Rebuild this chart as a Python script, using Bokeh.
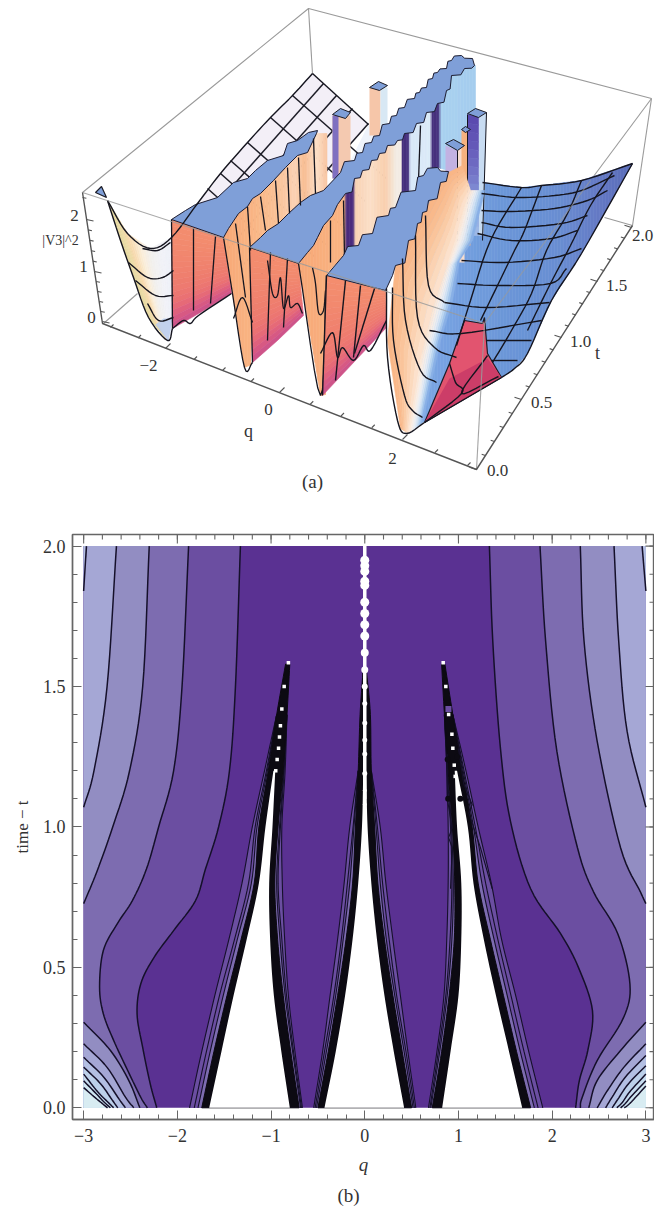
import numpy as np
from bokeh.plotting import figure
from bokeh.layouts import column
from bokeh.models import Range1d, FixedTicker
from bokeh.core.properties import value
from bokeh.embed import file_html
from bokeh.resources import INLINE

SERIF = "Liberation Serif"

# ---------------- panel (b): contour levels (q, t) ----------------
t_A = [2.0, 1.5, 1.2, 1.0, 0.85, 0.738, 0.631, 0.535, 0.442, 0.335, 0.215, 0.086, 0.0]
q_A_left = [-1.327, -1.38, -1.444, -1.56, -1.70, -1.806, -2.04, -2.25, -2.39, -2.43, -2.37, -2.29, -2.22]
t_A_r = [2.0, 1.662, 1.28, 1.02, 0.78, 0.62, 0.5, 0.346, 0.204, 0.097, 0.0]
q_A_right = [1.33, 1.366, 1.448, 1.555, 1.77, 2.09, 2.28, 2.43, 2.38, 2.29, 2.25]
t_C = [2.0, 1.5, 1.2, 1.0, 0.85, 0.738, 0.656, 0.56, 0.43, 0.335, 0.24, 0.133, 0.037, 0.0]
q_C_left = [-1.88, -1.95, -2.04, -2.2, -2.33, -2.48, -2.64, -2.79, -2.83, -2.79, -2.68, -2.53, -2.39, -2.32]
t_C_r = [2.0, 1.662, 1.27, 0.926, 0.77, 0.62, 0.44, 0.32, 0.168, 0.037, 0.0]
q_C_right = [1.87, 1.93, 2.05, 2.27, 2.44, 2.70, 2.83, 2.76, 2.48, 2.32, 2.30]
t_E = [2.0, 1.5, 1.2, 1.0, 0.84, 0.727]
q_E_left = [-2.30, -2.37, -2.51, -2.69, -2.86, -3.0]
t_E_r = [2.0, 1.662, 1.306, 0.926, 0.77, 0.727]
q_E_right = [2.30, 2.34, 2.48, 2.73, 2.94, 3.0]
t_G = [2.0, 1.5, 1.2, 1.07]
q_G_left = [-2.65, -2.75, -2.89, -3.0]
t_G_r = [2.0, 1.662, 1.34, 1.07]
q_G_right = [2.66, 2.71, 2.80, 3.0]
t_H = [2.0, 1.84]
q_H_left = [-2.97, -3.0]
q_H_right = [2.96, 3.0]

corner_left = [
    ([-3.0, -2.714, -2.518, -2.40], [0.305, 0.204, 0.097, 0.0]),
    ([-3.0, -2.75, -2.554, -2.465], [0.228, 0.144, 0.038, 0.0]),
    ([-3.0, -2.785, -2.62, -2.554], [0.18, 0.109, 0.03, 0.0]),
    ([-3.0, -2.82, -2.70, -2.636], [0.145, 0.086, 0.03, 0.0]),
    ([-3.0, -2.85, -2.74, -2.68], [0.12, 0.057, 0.02, 0.0]),
    ([-3.0, -2.865, -2.78, -2.714], [0.096, 0.05, 0.02, 0.0]),
    ([-3.0, -2.88, -2.80, -2.745], [0.072, 0.037, 0.015, 0.0]),
]
corner_right = [
    ([3.0, 2.73, 2.48, 2.39], [0.305, 0.204, 0.097, 0.0]),
    ([3.0, 2.764, 2.587, 2.48], [0.228, 0.144, 0.06, 0.0]),
    ([3.0, 2.78, 2.64, 2.57], [0.186, 0.109, 0.038, 0.0]),
    ([3.0, 2.815, 2.70, 2.64], [0.15, 0.086, 0.03, 0.0]),
    ([3.0, 2.835, 2.75, 2.69], [0.12, 0.06, 0.02, 0.0]),
    ([3.0, 2.85, 2.78, 2.73], [0.096, 0.043, 0.015, 0.0]),
    ([3.0, 2.87, 2.81, 2.77], [0.078, 0.03, 0.01, 0.0]),
]
level_colors = ["#5a3192", "#6b4ea1", "#7d6cb0", "#928dc2", "#a5a7d5", "#b3bfe3",
                "#bcd0ea", "#c6dcef", "#cfe6f2", "#d8ecf2"]

# wedge edges (q) over t
t_w = [0, .2, .4, .6, .8, 1.0, 1.2, 1.4, 1.58]
t_l = [0, .2, .4, .6, .8, 1.0, 1.2]
lo_white = [-1.66, -1.53, -1.40, -1.26, -1.13, -1.06, -.975]
lo_black = [-1.74, -1.61, -1.47, -1.32, -1.18, -1.13, -1.03, -.94, -.845]
lo_l3 = [-1.78, -1.65, -1.51, -1.36, -1.21, -1.15, -1.04]
lo_l2 = [-1.82, -1.69, -1.55, -1.39, -1.24, -1.17, -1.05]
lo_l1 = [-1.87, -1.74, -1.60, -1.45, -1.31, -1.20, -1.07]
li_white = [-.80, -.89, -.97, -1.01, -1.02, -.985, -.955]
li_black = [-.70, -.79, -.87, -.93, -.96, -.925, -.87, -.83, -.80]
li_l3 = [-.685, -.77, -.85, -.905, -.94, -.91, -.865]
li_l2 = [-.675, -.76, -.835, -.885, -.925, -.90, -.86]
li_l1 = [-.665, -.745, -.815, -.855, -.88, -.885, -.85]
ri_white = [.826, .915, 1.0, 1.03, 1.03, .985, .96]
ri_black = [.72, .82, .90, .955, .96, .935, .89, .85, .82]
ri_l3 = [.705, .80, .88, .93, .945, .925, .885]
ri_l2 = [.695, .785, .865, .91, .93, .915, .88]
ri_l1 = [.68, .77, .845, .875, .89, .89, .875]
ro_white = [1.68, 1.54, 1.40, 1.27, 1.16, 1.10, .985]
ro_black = [1.77, 1.62, 1.48, 1.34, 1.21, 1.146, 1.04, .94, .855]
ro_l3 = [1.81, 1.66, 1.52, 1.38, 1.25, 1.16, 1.05]
ro_l2 = [1.85, 1.70, 1.56, 1.42, 1.29, 1.18, 1.06]
ro_l1 = [1.90, 1.75, 1.61, 1.46, 1.35, 1.21, 1.08]
t_c = [0, .2, .4, .6, .8, 1.0, 1.2, 1.4, 1.55]
cl_white = [-.43, -.31, -.21, -.13, -.07, -.03, -.016]
cl_black = [-.50, -.39, -.29, -.20, -.13, -.10, -.07, -.05, -.02]
cl_l3 = [-.515, -.41, -.31, -.23, -.16, -.115]
cl_l2 = [-.53, -.43, -.33, -.25, -.185, -.125]
cl_l1 = [-.545, -.45, -.37, -.29, -.22, -.16]
cr_white = [.42, .31, .21, .13, .07, .03, .016]
cr_black = [.50, .40, .30, .21, .14, .105, .07, .06, .02]
cr_l3 = [.515, .42, .32, .23, .165, .12]
cr_l2 = [.53, .44, .34, .26, .19, .135]
cr_l1 = [.545, .46, .38, .30, .225, .165]
center_dot_t = [1.95, 1.93, 1.91, 1.875, 1.86, 1.80, 1.76, 1.72, 1.68, 1.62, 1.56, 1.50, 1.44, 1.37, 1.31, 1.26, 1.19, 1.13, 1.08]
center_dot_size = [9, 9, 9, 9, 9, 9, 9, 9, 9, 8, 7, 6, 5, 5, 5, 5, 5, 4, 4]
jag_q1 = [.879, .879, .933, .895, .933, .915]
jag_t1 = [1.26, 1.104, .997, .962, .926, .78]
jag_q2 = [1.0, 1.056, 1.146, 1.11, 1.235, 1.36]
jag_t2 = [1.28, 1.153, 1.08, 1.05, .926, .78]
blob_q = [.89, 1.02, .885, .985]
blob_t = [1.10, 1.10, 1.24, 1.25]
dot_q_l = [-.815, -.86, -.885, -.90, -.91, -.92, -.935, -.95]
dot_t_l = [1.585, 1.5, 1.42, 1.36, 1.32, 1.28, 1.24, 1.20]
dot_q_r = [.837, .865, .895, .93, .94, .955, .965]
dot_t_r = [1.585, 1.50, 1.40, 1.33, 1.28, 1.22, 1.18]

q_major = [-3, -2, -1, 0, 1, 2, 3]
q_minor = [round(-3.2 + .2 * i, 1) for i in range(33)]
t_major = [0, .5, 1, 1.5, 2]
t_minor = [round(-.1 + .1 * i, 1) for i in range(23)]

# ---------------- panel (a): view-plane outlines ----------------
q_tick_vals = [-3, -2.5, -2, -1.5, -1, -.5, 0, .5, 1, 1.5, 2, 2.5, 3]
q_anchor = [-3, -2, 0, 2, 3]
q_anchor_x = [110, 165, 279, 402, 467]
q_anchor_y = [327, 348, 392, 439, 465]
t_tick_vals = [round(.1 * i, 1) for i in range(21)]
t_anchor = [0, .5, 1, 1.5, 2]
t_anchor_x = [476, 521, 561, 597, 631]
t_anchor_y = [469, 399, 337, 281, 227]
z_tick_vals = [round(.2 * i, 1) for i in range(12)]
z_anchor = [0, 1, 2]
z_anchor_x = [102, 94, 86]
z_anchor_y = [321, 271, 219]

top1_x = [171, 223, 228, 238, 247, 252, 260, 273, 285, 297, 307, 316, 317, 308, 297, 287, 283, 267, 255, 247, 233, 217, 195, 185]
top1_y = [219, 237, 228, 213, 206, 198, 193, 180, 167, 155, 152, 133, 130, 132, 140, 143, 155, 160, 170, 178, 182, 197, 204, 210]
top2_front = [(249, 247), (298, 263), (307, 252), (313, 245), (317, 237), (323, 225), (332, 215), (337, 204), (345, 193)]
top2_low = [(345, 193), (354, 178), (362, 170), (371, 160), (379, 153), (387, 145), (397, 140), (404, 133), (416, 123), (426, 112),
            (437, 103), (446, 90), (451, 75), (464, 68), (474, 65)]
top2_up = [(472, 58), (461, 55), (451, 60), (446, 68), (437, 72), (432, 78), (426, 87), (419, 92), (414, 98), (404, 107), (396, 115),
           (389, 123), (379, 135), (371, 142), (362, 152), (354, 160), (340, 172)]
top2_back = [(323, 190), (310, 195), (300, 202), (288, 213), (278, 223), (267, 230), (260, 237)]
top3_front = [(326, 275), (385, 290), (392, 275), (395, 265)]
top3_low = [(395, 265), (408, 240), (417, 223), (422, 212), (428, 200), (440, 182), (448, 171)]
top3_up = [(448, 171), (437, 167), (423, 175), (415, 190), (395, 207), (388, 215), (372, 233), (358, 245), (343, 255)]

wall1_top_x = [223, 228, 238, 247, 252, 260, 273, 285, 297, 307, 316, 326]
wall1_top_y = [237, 228, 213, 206, 198, 193, 180, 167, 155, 152, 133, 133]
wall1_bot_x = [223, 232, 244, 251, 252, 326]
wall1_bot_y = [237, 293, 367, 364, 262, 194]
wall1_stop = [223, 250, 275, 295, 304, 316, 326]
wall1_col = ["#f7a877", "#f9b483", "#fac195", "#fbd2b4", "#f8bd93", "#fde0c8", "#f8c7a4"]

wall2_top_x = [298, 307, 313, 317, 323, 332, 337, 345, 354, 362, 371, 379, 387, 397, 404, 416, 426, 437, 446, 451, 464, 474]
wall2_top_y = [263, 252, 245, 237, 225, 215, 204, 193, 178, 170, 160, 153, 145, 140, 133, 123, 112, 103, 90, 75, 68, 65]
wall2_bot_x = [298, 320, 325, 326, 343, 358, 372, 388, 395, 415, 417, 423, 437, 448, 474]
wall2_bot_y = [263, 395, 394, 273, 255, 245, 233, 215, 207, 190, 182, 175, 167, 170, 172]
wall2_stop = [298, 340, 344, 346, 353, 355, 370, 385, 396, 401, 402, 408, 410, 430, 432, 438, 441, 474]
wall2_col = ["#f7a877", "#f9b483", "#f8b88a", "#4a2c7e", "#4a2c7e", "#f9d2b4", "#fbdfc8", "#f9cfae", "#f3ece4", "#f3ece4",
             "#46307e", "#46307e", "#d8e8f8", "#dcebf8", "#46307e", "#46307e", "#a9d2f0", "#a5cdee"]

red1_top = [(171, 219), (197, 228), (223, 237)]
red1_bot = [(172, 328), (200, 312), (231, 293)]
red2_top = [(249, 247), (273, 255), (298, 263)]
red2_bot = [(252, 362), (277, 340), (303, 315)]
red3_top = [(326, 275), (355, 283), (385, 288)]
red3_bot = [(322, 395), (354, 361), (386, 327)]
red_shade = ["#f48d6e", "#f38c6e", "#f28a6e", "#f1866e", "#f0826e", "#ef7e6e", "#ed7870", "#e96f74", "#dc5c80", "#c9518c"]

valley_cols = [
    [(107, 200), (120, 240), (133, 277), (148, 317), (167, 340)],
    [(127, 233), (135, 258), (144, 285), (154, 318), (167, 340)],
    [(150, 248), (153, 270), (157, 295), (161, 320), (168, 340)],
    [(171, 237), (172, 262), (172, 290), (172, 315), (172, 330)],
]
valley_col = [["#e4d59c", "#eadca6", "#f7d8ac"], ["#f7d8ac", "#fbeed8", "#f2f0ee"], ["#f2f0ee", "#f1f2f8", "#eef0f8"]]
valley_tip_x = [155, 163, 172, 168]
valley_tip_y = [324, 318, 318, 341]

mesh_x = [312, 368, 345, 325, 300, 200, 197, 220, 247, 270, 292]
mesh_y = [73, 124, 150, 175, 200, 215, 203, 173, 142, 117, 95]
mesh_a_x = [292, 270, 247, 230, 220, 207]
mesh_a_y = [95, 117, 142, 160, 173, 188]
mesh_b_x = [323, 336, 352, 368, 383]
mesh_b_y = [83, 95, 108, 123, 136]

rmesh_top_x = [440, 482, 521, 541, 581, 632]
rmesh_top_y = [182, 182, 187, 185, 180, 163]
rmesh_bot_x = [422, 501, 514, 527, 551, 581, 632]
rmesh_bot_y = [422, 377, 368, 353, 300, 253, 163]
rmesh_stop = [422, 480, 520, 560, 600, 632]
rmesh_col = ["#7ca6e4", "#709cdc", "#6a94d6", "#6a8ed2", "#6479c4", "#5a6cb9"]

trans_a = [(400, 428), (387, 340), (395, 265), (417, 223), (440, 182), (448, 172), (462, 165)]
trans_w = [(408, 433), (420, 360), (432, 310), (445, 270), (455, 240), (464, 205), (470, 190)]
trans_b = [(422, 422), (440, 340), (452, 300), (459, 260), (472, 240), (482, 200), (484, 190)]
trans_col1 = ["#f9b483", "#f9bb8e", "#fac79f", "#fbd6b8", "#fce5d2"]
trans_col2 = ["#fce5d2", "#f6efea", "#dfeaf6", "#b0cfee", "#7ca6e4"]

bump_x = [464, 482, 484, 487, 501, 424, 449]
bump_y = [320, 323, 317, 353, 377, 422, 363]
bump2_x = [449, 487, 501, 424]
bump2_y = [378, 358, 377, 422]

cols_back = [
    ("#f4c9b0", [332, 350, 350, 332], [115, 115, 178, 178]),
    ("#7f6fc0", [332, 338, 338, 332], [115, 115, 178, 178]),
    ("#f6c6a9", [369, 380, 380, 369], [87, 87, 135, 135]),
    ("#d8e8f4", [380, 387, 387, 380], [87, 87, 130, 130]),
]
cols_back_caps = [([332, 340, 350, 345], [114, 108, 112, 118]), ([369, 378, 387, 379], [87, 81, 85, 90])]
cols_front = [
    ("#c2b2e2", [445, 457, 457, 445], [145, 150, 205, 205]),
    ("#fbe3d3", [445, 457, 457, 445], [205, 205, 262, 262]),
    ("#f6ddcf", [457, 464, 464, 457], [150, 145, 262, 262]),
    ("#f6b27f", [461, 470, 470, 461], [130, 130, 245, 245]),
    ("#c8dcf2", [478, 486, 483, 478], [116, 112, 235, 235]),
]
col5_top = [(467, 114), (478, 116)]
col5_bot = [(467, 235), (478, 235)]
col5_shade = ["#5a48ae", "#6458b8", "#7476c8", "#8aa0dc", "#a0bce8"]
cols_front_caps = [([445, 453, 464, 457], [143, 139, 145, 150]),
                   ([461, 465, 470, 465], [129, 126, 129, 132]),
                   ([467, 475, 486, 478], [113, 108, 112, 117])]

black_lines = [
    [(107, 200), (127, 233), (150, 248), (171, 237), (197, 203), (220, 173), (247, 142), (270, 117), (292, 95), (312, 73)],
    [(312, 73), (368, 124)],
    [(107, 200), (120, 240), (133, 277), (148, 317), (167, 340), (172, 328)],
    [(172, 328), (183, 320), (190, 323), (198, 315), (231, 293)],
    [(142, 248), (157, 250), (170, 242)], [(128, 262), (147, 277), (162, 277), (173, 270)],
    [(135, 280), (155, 295), (173, 295)], [(147, 303), (158, 320), (173, 317)],
]
wall_lines = [
    [(171, 219), (172, 328)], [(193, 228), (193, 310)], [(215, 236), (210, 303)],
    [(223, 237), (232, 293), (244, 367), (252, 362)], [(235, 223), (245, 297)],
    [(247, 206), (250, 250)], [(260, 196), (265, 230)], [(275, 180), (278, 223)], [(287, 167), (289, 213)],
    [(298, 157), (300, 205)], [(313, 138), (315, 193)],
    [(249, 247), (252, 362)], [(267, 260), (272, 293), (277, 295), (280, 277), (283, 308), (288, 295), (290, 307), (297, 303), (302, 313)],
    [(270, 252), (267, 340)], [(287, 258), (283, 327)], [(233, 318), (242, 297), (252, 322)],
    [(298, 263), (320, 395), (326, 275)], [(312, 267), (315, 283), (318, 312), (323, 310), (325, 290)],
    [(330, 220), (330, 262)], [(343, 200), (344, 257)], [(420, 125), (418, 180)],
]
front_lines = [
    [(326, 275), (322, 395)], [(345, 280), (335, 380)], [(360, 285), (353, 357)], [(374, 288), (354, 353)],
    [(320, 353), (332, 332), (337, 357), (342, 347), (353, 360), (363, 345), (370, 350), (386, 320)],
    [(386, 288), (387, 357), (397, 420), (406, 433), (424, 422)], [(424, 422), (501, 377)],
    [(392, 287), (393, 340), (404, 395), (412, 410), (422, 417)],
    [(402, 258), (405, 320), (420, 370), (436, 382)],
    [(415, 235), (417, 317), (434, 347), (456, 357)],
    [(425, 215), (428, 285), (444, 302)],
    [(482, 182), (521, 187), (541, 185), (581, 180), (632, 163)],
    [(481, 193), (517, 197), (554, 195), (581, 190), (614, 175)],
    [(481, 210), (511, 211), (554, 208), (587, 200), (607, 190)],
    [(481, 222), (511, 227), (561, 223), (587, 215)],
    [(477, 233), (511, 240), (551, 238), (577, 230)],
    [(461, 260), (504, 262), (554, 257), (581, 248)],
    [(457, 283), (497, 285), (550, 283), (566, 268)],
    [(444, 302), (487, 307), (549, 302)],
    [(429, 330), (461, 333), (541, 320)],
    [(486, 340), (531, 340)], [(491, 360), (517, 360)],
    [(521, 187), (490, 240), (470, 300), (456, 345)],
    [(541, 185), (524, 230), (514, 250), (497, 285), (480, 320)],
    [(581, 180), (567, 213), (546, 250), (531, 293), (511, 330), (492, 362)],
    [(612, 172), (590, 205), (570, 245), (549, 285), (527, 330)],
    [(632, 163), (581, 253), (551, 300), (527, 353), (514, 368), (501, 377)],
    [(449, 363), (455, 382), (461, 393), (424, 422)], [(487, 355), (461, 393), (498, 376)],
]


def hex2rgb(h):
    return np.array([int(h[i:i + 2], 16) for i in (1, 3, 5)], dtype=float)


def mix(cols, f):
    pos = f * (len(cols) - 1)
    i = min(int(pos), len(cols) - 2)
    c = hex2rgb(cols[i]) * (1 - (pos - i)) + hex2rgb(cols[i + 1]) * (pos - i)
    return "#%02x%02x%02x" % tuple(int(round(v)) for v in c)


def curve(xs, ys, n=8):
    """Catmull-Rom drawing path through the read points."""
    P = np.column_stack([xs, ys]).astype(float)
    if len(P) < 3:
        return list(P[:, 0]), list(P[:, 1])
    Q = np.vstack([2 * P[0] - P[1], P, 2 * P[-1] - P[-2]])
    out = []
    for i in range(1, len(Q) - 2):
        for s in np.linspace(0, 1, n, endpoint=False):
            out.append(.5 * (2 * Q[i] + (Q[i + 1] - Q[i - 1]) * s + (2 * Q[i - 1] - 5 * Q[i] + 4 * Q[i + 1] - Q[i + 2]) * s * s
                             + (3 * Q[i] - Q[i - 1] - 3 * Q[i + 1] + Q[i + 2]) * s ** 3))
    out.append(P[-1])
    out = np.array(out)
    return list(out[:, 0]), list(out[:, 1])


def stairs(pts):
    """Saw-tooth drawing path of the clipped plateau edge."""
    out = [pts[0]]
    for a, b in zip(pts[:-1], pts[1:]):
        out.append((a[0] + .72 * (b[0] - a[0]), a[1] + .1 * (b[1] - a[1])))
        out.append(b)
    return out


def vstrips(p, tx, ty, bx, by, stops, cols, step=1.5):
    x0, x1 = min(stops), max(stops)
    xs, ys, cc = [], [], []
    edges = np.arange(x0, x1 + step, step)
    rgb = np.array([hex2rgb(c) for c in cols])
    for a, b in zip(edges[:-1], edges[1:]):
        m = (a + b) / 2
        c = [np.interp(m, stops, rgb[:, k]) for k in range(3)]
        yta, ytb = np.interp([a, b], tx, ty)
        yba, ybb = np.interp([a, b], bx, by)
        xs.append([a, b, b, a])
        ys.append([yta, ytb, ybb, yba])
        cc.append("#%02x%02x%02x" % tuple(int(round(v)) for v in c))
    p.patches(xs, ys, fill_color=cc, line_color=cc, line_width=0.6)


def bands(p, a, b, cols, n=12):
    a = np.array(a, dtype=float)
    b = np.array(b, dtype=float)
    xs, ys, cc = [], [], []
    for i in range(n):
        f0, f1 = i / n, (i + 1) / n
        pa_ = a + f0 * (b - a)
        pb_ = a + f1 * (b - a)
        poly = np.vstack([pa_, pb_[::-1]])
        xs.append(list(poly[:, 0]))
        ys.append(list(poly[:, 1]))
        cc.append(mix(cols, (i + .5) / n))
    p.patches(xs, ys, fill_color=cc, line_color=cc, line_width=0.6)


def polylines(p, lines, color="#15151f", width=1.4):
    mx, my = [], []
    for l in lines:
        cx, cy = curve([pt[0] for pt in l], [pt[1] for pt in l], n=6)
        mx.append(cx)
        my.append(cy)
    p.multi_line(mx, my, line_color=color, line_width=width)


def plateau(p, pts):
    p.patch([a[0] for a in pts], [a[1] for a in pts], fill_color="#7f9fd8", line_color="#1c1c30", line_width=1.0)


# ---------------------------- panel (a) ----------------------------
pa = figure(width=654, height=510, x_range=Range1d(0, 654), y_range=Range1d(510, 0),
            output_backend="svg", toolbar_location=None, min_border=0, frame_align=False)
pa.xaxis.visible = False
pa.yaxis.visible = False
pa.xgrid.visible = False
pa.ygrid.visible = False
pa.outline_line_color = None

GRAY = "#9a9a9a"
pa.line([82, 308, 651], [192, 8, 98], line_color=GRAY, line_width=1.1)
pa.line([308, 312], [8, 73], line_color=GRAY, line_width=1.1)
pa.line([651, 632], [98, 225], line_color=GRAY, line_width=1.1)
pa.line([604, 632], [217, 225], line_color=GRAY, line_width=1.1)
pa.line([651, 590], [98, 180], line_color=GRAY, line_width=1.1)
pa.line([103, 137], [323, 293], line_color=GRAY, line_width=1.1)

# far mesh
pa.patch(mesh_x, mesh_y, fill_color="#f3eff7", line_color=None)
pa.patch([368, 410, 345], [124, 160, 170], fill_color="#eef3fb", line_color=None)
gx, gy = [], []
for x0, y0 in zip(mesh_a_x, mesh_a_y):
    gx.append([x0, x0 + 95])
    gy.append([y0, y0 + 84])
for x0, y0 in zip(mesh_b_x, mesh_b_y):
    gx.append([x0, x0 - 125])
    gy.append([y0, y0 + 141])
pa.multi_line(gx, gy, line_color="#1c1c26", line_width=1.5)

# left valley
for k in range(3):
    bands(pa, valley_cols[k], valley_cols[k + 1], valley_col[k], n=8)
pa.patch(valley_tip_x, valley_tip_y, fill_color="#bccdec", line_color=None, fill_alpha=0.9)
pa.patch([95, 101, 106], [192, 186, 197], fill_color="#7f9fd8", line_color="#1c1c26", line_width=1.2)

# back columns
for c, x, y in cols_back:
    pa.patch(x, y, fill_color=c, line_color=None)
for x, y in cols_back_caps:
    pa.patch(x, y, fill_color="#7f9fd8", line_color="#1c1c26", line_width=1)

# block 1
vstrips(pa, wall1_top_x, wall1_top_y, wall1_bot_x, wall1_bot_y, wall1_stop, wall1_col)
bands(pa, red1_top, red1_bot, red_shade, n=18)
pa.patch(top1_x, top1_y, fill_color="#7f9fd8", line_color="#1c1c30", line_width=1.0)
polylines(pa, black_lines)

# block 2 (centre)
vstrips(pa, wall2_top_x, wall2_top_y, wall2_bot_x, wall2_bot_y, wall2_stop, wall2_col)
bands(pa, red2_top, red2_bot, red_shade, n=18)
plateau(pa, top2_front + stairs(top2_low)[1:] + stairs(top2_up) + top2_back)
polylines(pa, wall_lines, width=1.3)

# right surface, front columns, block 3
vstrips(pa, rmesh_top_x, rmesh_top_y, rmesh_bot_x, rmesh_bot_y, rmesh_stop, rmesh_col)
for c, x, y in cols_front:
    pa.patch(x, y, fill_color=c, line_color=None)
bands(pa, col5_top, col5_bot, col5_shade, n=14)
pa.line([467, 467], [114, 235], line_color="#15151f", line_width=1)
pa.line([486, 482], [112, 240], line_color="#15151f", line_width=1)
pa.line([457, 457], [150, 240], line_color="#15151f", line_width=1)
bands(pa, trans_a, trans_w, trans_col1, n=8)
bands(pa, trans_w, trans_b, trans_col2, n=8)
bands(pa, red3_top, red3_bot, red_shade, n=18)
for x, y in cols_front_caps:
    pa.patch(x, y, fill_color="#7f9fd8", line_color="#1c1c26", line_width=1)
plateau(pa, top3_front + stairs(top3_low)[1:] + stairs(top3_up)[1:])
pa.patch(bump_x, bump_y, fill_color="#e2546f", line_color="#1c1c26", line_width=1.2)
pa.patch(bump2_x, bump2_y, fill_color="#cc3d68", line_color=None)
polylines(pa, front_lines)

# front box lines, over the surface
pa.line([82, 484], [192, 323], line_color=GRAY, line_width=1.1, line_alpha=0.85)
pa.line([484, 476], [323, 469], line_color=GRAY, line_width=1.1, line_alpha=0.9)
pa.line([484, 590], [323, 180], line_color=GRAY, line_width=1.1, line_alpha=0.7)

# axes
AX = "#555555"
pa.line([82, 102, 476, 632], [192, 323, 469, 225], line_color=AX, line_width=1.4)
qtx = np.interp(q_tick_vals, q_anchor, q_anchor_x)
qty = np.interp(q_tick_vals, q_anchor, q_anchor_y)
qlen = [1.0 if v in (-2, 0, 2) else .6 for v in q_tick_vals]
pa.segment(qtx, qty, qtx + 5 * np.array(qlen), qty - 5 * np.array(qlen), line_color=AX, line_width=1.1)
ttx = np.interp(t_tick_vals, t_anchor, t_anchor_x)
tty = np.interp(t_tick_vals, t_anchor, t_anchor_y)
tlen = [1.0 if abs(v * 2 - round(v * 2)) < 1e-6 else .55 for v in t_tick_vals]
pa.segment(ttx, tty, ttx - 7 * np.array(tlen), tty - 2.3 * np.array(tlen), line_color=AX, line_width=1.1)
ztx = np.interp(z_tick_vals, z_anchor, z_anchor_x, right=82)
zty = np.interp(z_tick_vals, z_anchor, z_anchor_y, right=197)
zlen = [1.0 if v in (0, 1, 2) else .55 for v in z_tick_vals]
pa.segment(ztx, zty, ztx + 7 * np.array(zlen), zty + 1.5 * np.array(zlen), line_color=AX, line_width=1.1)


def txt(p, x, y, s, size="17px", style="normal", angle=0):
    p.text([x], [y], text=[s], text_font=value(SERIF), text_font_size=size, text_font_style=style,
           text_color="#333333", text_align="center", text_baseline="middle", angle=angle)


for s, x, y in zip(["\u22122", "0", "2"], [148, 268, 392], [365, 409, 458]):
    txt(pa, x, y, s)
for s, x, y in zip(["0.0", "0.5", "1.0", "1.5", "2.0"], [497, 541, 580, 616, 642], [470, 402, 341, 285, 235]):
    txt(pa, x, y, s)
for s, x, y in zip(["0", "1", "2"], [91, 83, 74], [317, 266, 215]):
    txt(pa, x, y, s)
txt(pa, 248, 430, "q", size="18px")
txt(pa, 597, 352, "t", size="18px")
txt(pa, 60, 240, "|V3|^2", size="14px")
txt(pa, 312, 481, "(a)", size="19px")

# ---------------------------- panel (b) ----------------------------
pb = figure(width=654, height=673, x_range=Range1d(-3.119, 3.092), y_range=Range1d(-0.0416, 2.0413),
            output_backend="svg", toolbar_location=None, frame_align=False,
            min_border_left=72, min_border_right=0, min_border_top=24, min_border_bottom=64)
pb.xgrid.visible = False
pb.ygrid.visible = False
TC = "#666666"
pb.outline_line_color = TC
pb.outline_line_width = 1.4


def region(p, q, t, extra_q, extra_t, color):
    cq, ct = curve(q, t)
    p.patch(cq + extra_q, ct + extra_t, fill_color=color, line_color=None)


pb.quad(left=[-3], right=[3], bottom=[0], top=[2], fill_color=level_colors[0], line_color=None)
L = -3.0
R = 3.0
region(pb, q_A_left, t_A, [L, L], [0, 2], level_colors[1])
region(pb, q_A_right, t_A_r, [R, R], [0, 2], level_colors[1])
region(pb, q_C_left, t_C, [L, L], [0, 2], level_colors[2])
region(pb, q_C_right, t_C_r, [R, R], [0, 2], level_colors[2])
region(pb, q_E_left, t_E, [L], [2], level_colors[3])
region(pb, q_E_right, t_E_r, [R], [2], level_colors[3])
region(pb, q_G_left, t_G, [L], [2], level_colors[4])
region(pb, q_G_right, t_G_r, [R], [2], level_colors[4])
region(pb, q_H_left, t_H, [L], [2], level_colors[5])
region(pb, q_H_right, t_H, [R], [2], level_colors[5])
for k, (cq, ct) in enumerate(corner_left):
    region(pb, cq, ct, [L], [0], level_colors[min(k + 3, 9)])
for k, (cq, ct) in enumerate(corner_right):
    region(pb, cq, ct, [R], [0], level_colors[min(k + 3, 9)])

line_sets = [(q_A_left, t_A), (q_A_right, t_A_r), (q_C_left, t_C), (q_C_right, t_C_r), (q_E_left, t_E), (q_E_right, t_E_r),
             (q_G_left, t_G), (q_G_right, t_G_r), (q_H_left, t_H), (q_H_right, t_H)] + corner_left + corner_right
curves = [curve(a, b) for a, b in line_sets]
pb.multi_line([c[0] for c in curves], [c[1] for c in curves], line_color="#15102a", line_width=1.5)


def between(p, q1, t1, q2, t2, color, line=None):
    c1 = curve(q1, t1)
    c2 = curve(q2, t2)
    p.patch(c1[0] + c2[0][::-1], c1[1] + c2[1][::-1], fill_color=color, line_color=line, line_width=1)


def wedge_side(p, tvals, l1, l2, l3, black):
    for ln, col in ((l1, level_colors[1]), (l3, level_colors[2])):
        k = len(ln)
        k2 = min(k + 1, len(black))
        between(p, list(ln) + list(black[k:k2]), list(tvals[:k2]), black[:k2], tvals[:k2], col)
    for ln in (l1, l2, l3):
        k = len(ln)
        k2 = min(k + 1, len(black))
        cx, cy = curve(list(ln) + list(black[k:k2]), list(tvals[:k2]))
        p.line(cx, cy, line_color="#15102a", line_width=1.1)


for tv, a1, a2, a3, ab in [(t_w, lo_l1, lo_l2, lo_l3, lo_black), (t_w, li_l1, li_l2, li_l3, li_black),
                           (t_w, ri_l1, ri_l2, ri_l3, ri_black), (t_w, ro_l1, ro_l2, ro_l3, ro_black),
                           (t_c, cl_l1, cl_l2, cl_l3, cl_black), (t_c, cr_l1, cr_l2, cr_l3, cr_black)]:
    wedge_side(pb, tv, a1, a2, a3, ab)

between(pb, lo_black, t_w, li_black, t_w, "#0c0a12", "#0c0a12")
between(pb, ri_black, t_w, ro_black, t_w, "#0c0a12", "#0c0a12")
between(pb, cl_black, t_c, cr_black, t_c, "#0c0a12", "#0c0a12")
between(pb, lo_white, t_l, li_white, t_l, "white")
between(pb, ri_white, t_l, ro_white, t_l, "white")
between(pb, cl_white, t_c[:7], cr_white, t_c[:7], "white")

pb.line([0, 0], [1.1, 2.0], line_color="white", line_width=3.5)
pb.scatter([0] * len(center_dot_t), center_dot_t, size=center_dot_size, marker="circle", fill_color="white", line_color=None)
pb.line(jag_q1, jag_t1, line_color="#15102a", line_width=1.1)
pb.line(jag_q2, jag_t2, line_color="#15102a", line_width=1.1)
pb.scatter(blob_q, blob_t, size=6, marker="circle", fill_color="#0c0a12", line_color=None)
pb.scatter(dot_q_l + dot_q_r, dot_t_l + dot_t_r, size=3.5, marker="square", fill_color="white", line_color=None)
pb.scatter([.893], [1.42], size=6, marker="square", fill_color="#6b4ea1", line_color=None)

# inward ticks on the top and right frame edges
qr = (3.092 + 3.119) / 582
tr = (2.0413 + 0.0416) / 585
pb.segment(q_major, [2.0413] * len(q_major), q_major, [2.0413 - 9 * tr] * len(q_major), line_color=TC, line_width=1.1)
pb.segment(q_minor, [2.0413] * len(q_minor), q_minor, [2.0413 - 5 * tr] * len(q_minor), line_color=TC, line_width=1.1)
pb.segment([3.092] * len(t_major), t_major, [3.092 - 9 * qr] * len(t_major), t_major, line_color=TC, line_width=1.1)
pb.segment([3.092] * len(t_minor), t_minor, [3.092 - 5 * qr] * len(t_minor), t_minor, line_color=TC, line_width=1.1)


def style_axis(ax):
    ax.axis_line_color = TC
    ax.axis_line_width = 1.4
    ax.major_tick_line_color = TC
    ax.minor_tick_line_color = TC
    ax.major_tick_in = 9
    ax.major_tick_out = 0
    ax.minor_tick_in = 5
    ax.minor_tick_out = 0
    ax.major_label_text_font = SERIF
    ax.major_label_text_font_size = "18px"
    ax.major_label_text_color = "#333333"


xb = pb.xaxis[0]
xb.ticker = FixedTicker(ticks=q_major, minor_ticks=q_minor)
style_axis(xb)
xb.major_label_overrides = {-3: "\u22123", -2: "\u22122", -1: "\u22121", 0: "0", 1: "1", 2: "2", 3: "3"}
xb.major_label_standoff = 9
xb.axis_label = "q"
xb.axis_label_text_font = SERIF
xb.axis_label_text_font_style = "italic"
xb.axis_label_text_font_size = "19px"
xb.axis_label_text_color = "#333333"
xb.axis_label_standoff = 9
yl = pb.yaxis[0]
yl.ticker = FixedTicker(ticks=t_major, minor_ticks=t_minor)
style_axis(yl)
yl.major_label_overrides = {0: "0.0", 0.5: "0.5", 1: "1.0", 1.5: "1.5", 2: "2.0"}
yl.major_label_standoff = 7
yl.axis_label = "time \u2212 t"
yl.axis_label_text_font = SERIF
yl.axis_label_text_font_style = "normal"
yl.axis_label_text_font_size = "17px"
yl.axis_label_text_color = "#333333"
yl.axis_label_standoff = 8

# caption strip
pc = figure(width=654, height=24, x_range=Range1d(0, 654), y_range=Range1d(1207, 1183),
            output_backend="svg", toolbar_location=None, min_border=0, frame_align=False)
pc.xaxis.visible = False
pc.yaxis.visible = False
pc.xgrid.visible = False
pc.ygrid.visible = False
pc.outline_line_color = None
txt(pc, 348, 1195, "(b)", size="19px")

open("out.html", "w").write(file_html(column(pa, pb, pc, spacing=0), INLINE))
